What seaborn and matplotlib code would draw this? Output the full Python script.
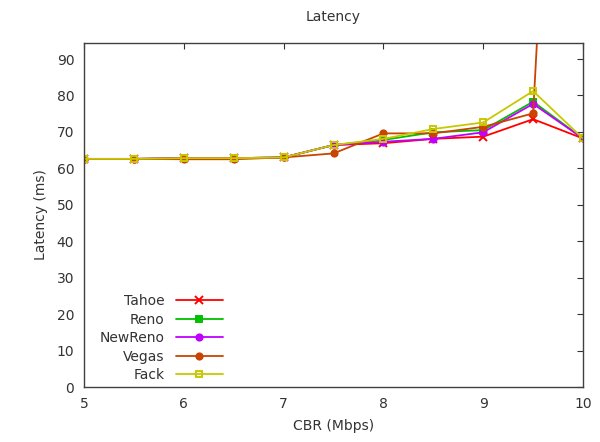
import pandas as pd
import matplotlib
matplotlib.use("Agg")
import matplotlib.pyplot as plt
import seaborn as sns

# CBR rate (Mbps) on x, latency (ms) on y
cbr = [5.0, 5.5, 6.0, 6.5, 7.0, 7.5, 8.0, 8.5, 9.0, 9.5, 10.0]
tahoe   = [62.6, 62.6, 62.8, 62.8, 63.0, 66.4, 66.9, 68.1, 68.7, 73.5, 68.2]
reno    = [62.6, 62.6, 62.8, 62.8, 63.0, 66.4, 67.8, 69.9, 70.5, 78.3, 68.2]
newreno = [62.6, 62.6, 62.8, 62.8, 63.0, 66.4, 67.3, 68.1, 69.9, 77.7, 68.2]
vegas   = [62.6, 62.6, 62.5, 62.5, 63.0, 64.1, 69.6, 69.6, 71.4, 75.1, 330.0]
fack    = [62.6, 62.6, 62.8, 62.8, 63.0, 66.4, 68.1, 70.8, 72.6, 81.2, 68.2]

names  = ["Tahoe", "Reno", "NewReno", "Vegas", "Fack"]
series = [tahoe, reno, newreno, vegas, fack]
colors = ["#ff0000", "#00c000", "#c000ff", "#c84400", "#c8c800"]
marks  = ["x", "s", "o", "o", "s"]

sns.set_style("white")
plt.rcParams["font.family"] = ["DejaVu Sans"]

fig = plt.figure(figsize=(6, 4.42), dpi=100)
ax = fig.add_axes([0.14, 0.1244, 0.8317, 0.7783])

for n, vals, c, m in zip(names, series, colors, marks):
    d = pd.DataFrame({"cbr": cbr, "latency": vals})
    sns.lineplot(data=d, x="cbr", y="latency", color=c, marker=m,
                 markersize=5.5 if m == "x" else 4.5, markeredgecolor=c,
                 markeredgewidth=1.4,
                 markerfacecolor="none" if n == "Fack" else c,
                 linewidth=1.3, sort=False, estimator=None, ax=ax, label=n)

ax.set_xlim(5, 10)
ax.set_ylim(0, 94.4)
ax.set_yticks(range(0, 91, 10))
ax.set_xticks(range(5, 11))
ax.tick_params(direction="in", top=True, right=True, length=4, width=0.8,
               labelsize=10, colors="#333333", pad=7)
for sp in ax.spines.values():
    sp.set_color("#404040")
    sp.set_linewidth(1)

ax.set_title("Latency", fontsize=10, pad=16, color="#333333")
ax.set_xlabel("CBR (Mbps)", fontsize=10, labelpad=6, color="#333333")
ax.set_ylabel("Latency (ms)", fontsize=10, labelpad=6, color="#333333")

leg = ax.legend(ax.lines[:5], names, loc="lower left", frameon=False,
                markerfirst=False, numpoints=1, handlelength=3.4,
                handletextpad=0.8, labelspacing=0.32, fontsize=10,
                bbox_to_anchor=(0.006, -0.022))
for t in leg.get_texts():
    t.set_color("#333333")
for col in leg._legend_handle_box.get_children():
    col.align = "right"

fig.savefig("out.png", dpi=100)
plt.close()
